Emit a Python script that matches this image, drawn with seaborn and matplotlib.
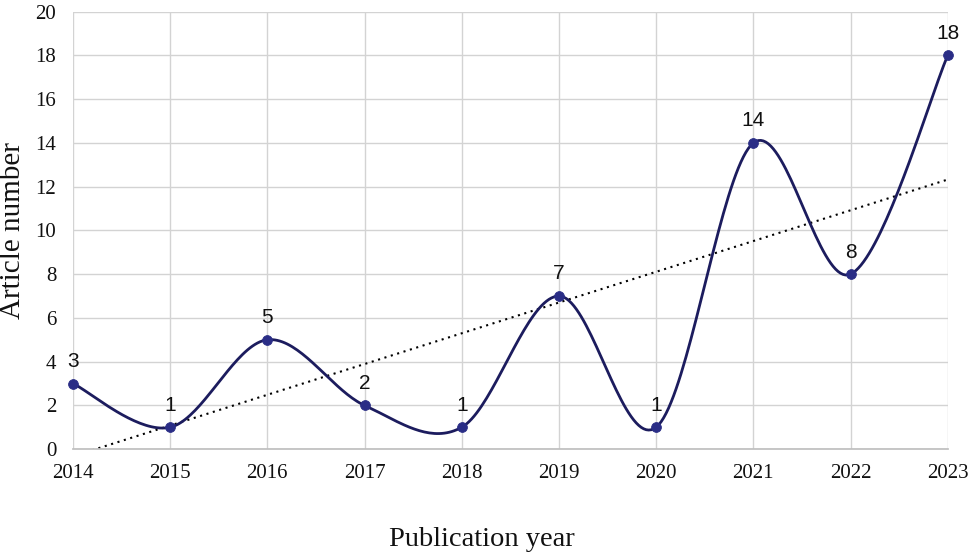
import numpy as np
import pandas as pd
import matplotlib
matplotlib.use("Agg")
import matplotlib.pyplot as plt
import seaborn as sns

years = [2014, 2015, 2016, 2017, 2018, 2019, 2020, 2021, 2022, 2023]
articles = [3, 1, 5, 2, 1, 7, 1, 14, 8, 18]
y_ticks = [0, 2, 4, 6, 8, 10, 12, 14, 16, 18, 20]

df = pd.DataFrame({"year": years, "articles": articles})

sns.set_theme(style="white")
plt.rcParams["font.family"] = ["Liberation Serif", "DejaVu Serif"]

fig = plt.figure(figsize=(9.73, 5.6), dpi=100)
ax = fig.add_axes([0.075, 0.198, 0.899, 0.781])

line_col = "#1c1c5e"
mark_col = "#2a2d86"


def smooth_curve(x, y, n=40):
    """Catmull-Rom style Bezier smoothing (like a spreadsheet 'smoothed line')."""
    x = np.asarray(x, float)
    y = np.asarray(y, float)
    px = np.concatenate([[x[0]], x, [x[-1]]])
    py = np.concatenate([[y[0]], y, [y[-1]]])
    xs, ys = [], []
    t = np.linspace(0, 1, n)
    for i in range(1, len(px) - 2):
        p0 = np.array([px[i], py[i]])
        p3 = np.array([px[i + 1], py[i + 1]])
        d1 = (np.array([px[i + 1], py[i + 1]]) - np.array([px[i - 1], py[i - 1]])) / 6.0
        d2 = (np.array([px[i + 2], py[i + 2]]) - np.array([px[i], py[i]])) / 6.0
        p1 = p0 + d1
        p2 = p3 - d2
        b = ((1 - t) ** 3)[:, None] * p0 + (3 * (1 - t) ** 2 * t)[:, None] * p1 \
            + (3 * (1 - t) * t ** 2)[:, None] * p2 + (t ** 3)[:, None] * p3
        xs.append(b[:, 0])
        ys.append(b[:, 1])
    return np.concatenate(xs), np.concatenate(ys)


sx, sy = smooth_curve(years, articles)
ax.plot(sx, sy, color=line_col, lw=2.0, zorder=3, clip_on=False)
sns.scatterplot(data=df, x="year", y="articles", ax=ax, color=mark_col,
                s=50, edgecolor=mark_col, zorder=4, legend=False, clip_on=False)

sns.regplot(data=df, x="year", y="articles", ax=ax, scatter=False, ci=None,
            line_kws=dict(color="black", lw=1.5, linestyle=(0, (1, 2.2)), zorder=2))

for xv, yv in zip(years, articles):
    ax.annotate(str(yv), (xv, yv), xytext=(0, 12), textcoords="offset points",
                ha="center", va="baseline", fontsize=15,
                family=["Liberation Sans", "DejaVu Sans"], color="#111111")

ax.set_xlim(2014, 2023)
ax.set_ylim(0, 20)
ax.set_xticks(years)
ax.set_xticklabels([str(y) for y in years])
ax.set_yticks(y_ticks)
ax.grid(True, color="#d3d3d3", lw=1.0)
ax.set_axisbelow(True)
for s in ["top", "right", "left"]:
    ax.spines[s].set_visible(False)
ax.spines["bottom"].set_color("#bfbfbf")
ax.tick_params(axis="both", length=0, labelsize=15, colors="#111111")
ax.tick_params(axis="x", pad=11)
ax.tick_params(axis="y", pad=12)
ax.set_xlabel("Publication year", fontsize=20.5, color="#111111")
ax.set_ylabel("Article number", fontsize=21, color="#111111")
ax.xaxis.set_label_coords(0.467, -0.178)
ax.yaxis.set_label_coords(-0.054, 0.5)

fig.savefig("out.png", dpi=100)
